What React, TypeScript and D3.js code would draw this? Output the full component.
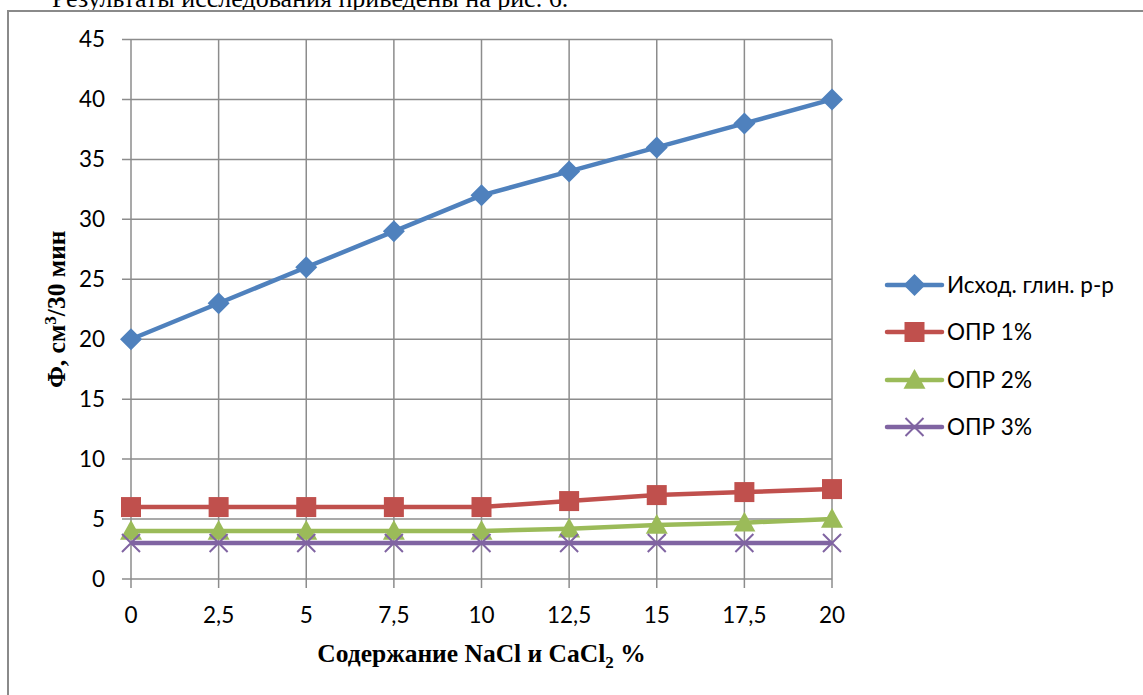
import React from "react";
import * as d3 from "d3";

const xValues = [0, 2.5, 5, 7.5, 10, 12.5, 15, 17.5, 20];
const xTickLabels = ["0", "2,5", "5", "7,5", "10", "12,5", "15", "17,5", "20"];
const yTicks = [0, 5, 10, 15, 20, 25, 30, 35, 40, 45];
const seriesNames = ["Исход. глин. р-р", "ОПР 1%", "ОПР 2%", "ОПР 3%"];
const seriesBase = [20, 23, 26, 29, 32, 34, 36, 38, 40];
const seriesOpr1 = [6, 6, 6, 6, 6, 6.5, 7, 7.25, 7.5];
const seriesOpr2 = [4, 4, 4, 4, 4, 4.2, 4.5, 4.7, 5];
const seriesOpr3 = [3, 3, 3, 3, 3, 3, 3, 3, 3];
const colors = ["#4F81BD", "#C0504D", "#9BBB59", "#8064A2"];
const markers = ["diamond", "square", "triangle", "x"];

const W = 1143;
const H = 695;
const plot = { left: 131, right: 832, top: 39.5, bottom: 579 };

function Marker({ type, x, y, color }: { type: string; x: number; y: number; color: string }) {
  if (type === "diamond") {
    const s = 11;
    return <path d={`M${x},${y - s}L${x + s},${y}L${x},${y + s}L${x - s},${y}Z`} fill={color} />;
  }
  if (type === "square") {
    const s = 10;
    return <rect x={x - s} y={y - s} width={2 * s} height={2 * s} fill={color} />;
  }
  if (type === "triangle") {
    const s = 11;
    return <path d={`M${x},${y - s}L${x + s},${y + s * 0.8}L${x - s},${y + s * 0.8}Z`} fill={color} />;
  }
  const s = 9;
  return (
    <path
      d={`M${x - s},${y - s}L${x + s},${y + s}M${x - s},${y + s}L${x + s},${y - s}`}
      stroke={color}
      strokeWidth={2}
      fill="none"
    />
  );
}

export default function App() {
  const x = d3.scaleLinear().domain([0, 20]).range([plot.left, plot.right]);
  const y = d3.scaleLinear().domain([0, 45]).range([plot.bottom, plot.top]);
  const allSeries = [seriesBase, seriesOpr1, seriesOpr2, seriesOpr3];
  const line = d3
    .line<number>()
    .x((_, i) => x(xValues[i]))
    .y((d) => y(d));
  const grid = "#8c8c8c";
  const tickFont = "Lato, 'Open Sans', sans-serif";
  const serif = "'Liberation Serif', 'Times New Roman', serif";
  const legendX0 = 887;
  const legendX1 = 942;
  const legendY = [285, 332, 380, 427];

  return (
    <svg
      width={W}
      height={H}
      style={{ position: "fixed", left: 0, top: 0, background: "#fff" }}
    >
      <rect x={0} y={0} width={W} height={H} fill="#fff" />
      <text x={52} y={7} fontFamily={serif} fontSize={26} fill="#000">
        Результаты исследования приведены на рис. 6.
      </text>
      <rect x={0} y={10} width={W} height={H} fill="#fff" />
      <rect x={8} y={11} width={W + 10} height={H + 20} fill="none" stroke="#8a8a8a" strokeWidth={2} />

      {/* horizontal gridlines */}
      {yTicks.map((t) => (
        <line key={"h" + t} x1={plot.left - 9} x2={plot.right} y1={y(t)} y2={y(t)} stroke={grid} strokeWidth={1.5} />
      ))}
      {/* vertical gridlines */}
      {xValues.map((v) => (
        <line key={"v" + v} x1={x(v)} x2={x(v)} y1={plot.top} y2={plot.bottom + 9} stroke={grid} strokeWidth={1.5} />
      ))}

      {/* y tick labels */}
      {yTicks.map((t) => (
        <text
          key={"yl" + t}
          x={105}
          y={y(t)}
          dy="0.35em"
          textAnchor="end"
          fontFamily={tickFont}
          fontSize={22.5}
          fill="#000"
        >
          {t}
        </text>
      ))}
      {/* x tick labels */}
      {xValues.map((v, i) => (
        <text
          key={"xl" + v}
          x={x(v)}
          y={615}
          dy="0.35em"
          textAnchor="middle"
          fontFamily={tickFont}
          fontSize={22.5}
          fill="#000"
        >
          {xTickLabels[i]}
        </text>
      ))}

      {/* axis titles */}
      <text
        x={(plot.left + plot.right) / 2}
        y={662}
        textAnchor="middle"
        fontFamily={serif}
        fontWeight="bold"
        fontSize={25.5}
        fill="#000"
      >
        Содержание NaCl и CaCl<tspan dy={6} fontSize={17}>2</tspan>
        <tspan dy={-6}> %</tspan>
      </text>
      <text
        transform={`translate(65,${(plot.top + plot.bottom) / 2}) rotate(-90)`}
        textAnchor="middle"
        fontFamily={serif}
        fontWeight="bold"
        fontSize={25.5}
        fill="#000"
      >
        Ф, см<tspan dy={-9} fontSize={17}>3</tspan>
        <tspan dy={9}>/30 мин</tspan>
      </text>

      {/* series */}
      {allSeries.map((s, si) => (
        <g key={"s" + si}>
          <path d={line(s) || ""} fill="none" stroke={colors[si]} strokeWidth={4.5} strokeLinejoin="round" />
          {s.map((v, i) => (
            <Marker key={i} type={markers[si]} x={x(xValues[i])} y={y(v)} color={colors[si]} />
          ))}
        </g>
      ))}

      {/* legend */}
      {seriesNames.map((name, si) => (
        <g key={"lg" + si}>
          <line
            x1={legendX0}
            x2={legendX1}
            y1={legendY[si]}
            y2={legendY[si]}
            stroke={colors[si]}
            strokeWidth={4.5}
            strokeLinecap="round"
          />
          <Marker type={markers[si]} x={(legendX0 + legendX1) / 2} y={legendY[si]} color={colors[si]} />
          <text
            x={947}
            y={legendY[si]}
            dy="0.35em"
            fontFamily={tickFont}
            fontSize={22.5}
            fill="#000"
          >
            {name}
          </text>
        </g>
      ))}
    </svg>
  );
}
